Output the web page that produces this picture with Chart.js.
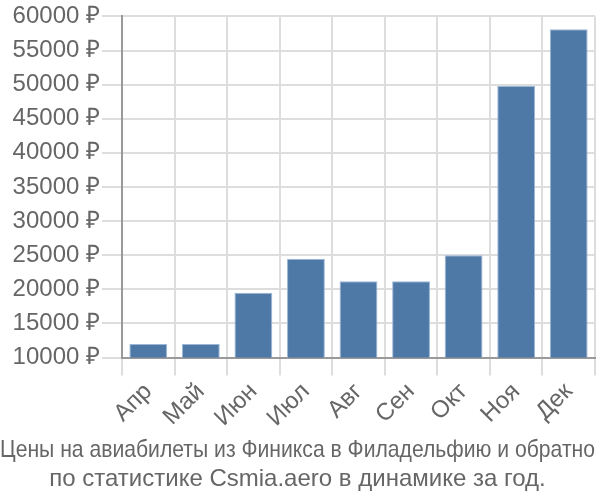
<!DOCTYPE html>
<html>
<head>
<meta charset="utf-8">
<script src="https://cdn.jsdelivr.net/npm/chart.js@4"></script>
<style>
  body { margin: 0; background: #fff; }
  #wrap { width: 600px; height: 500px; }
</style>
</head>
<body>
<div id="wrap"><canvas id="priceChart"></canvas></div>
<script>
// Months and average prices (rubles)
const months = ["Апр", "Май", "Июн", "Июл", "Авг", "Сен", "Окт", "Ноя", "Дек"];
const prices = [12000, 12000, 19500, 24500, 21200, 21200, 25000, 49800, 58100];
const titleLines = ["Цены на авиабилеты из Финикса в Филадельфию и обратно", "по статистике Csmia.aero в динамике за год."];

const ctx = document.getElementById('priceChart').getContext('2d');
new Chart(ctx, {
    type: 'bar',
    data: {
        labels: months,
        datasets: [{
            data: prices,
            backgroundColor: "#4e79a7",
            borderColor: "#9cb7d6",
            borderWidth: 1
        }]
    },
    options: {
        responsive: true,
        maintainAspectRatio: false,
        animation: false,
        layout: { padding: { left: 0, right: 5, top: 3 } },
        plugins: {
            legend: { display: false },
            tooltip: { enabled: false },
            title: {
                display: true,
                position: 'bottom',
                text: titleLines,
                color: "#666",
                font: { family: "Liberation Sans", size: 24, weight: 'normal', lineHeight: 1.2 },
                padding: { top: 2, bottom: 6 }
            }
        },
        scales: {
            x: {
                grid: { color: "#ddd", lineWidth: 2, tickLength: 18 },
                border: { color: "#999", width: 2 },
                ticks: {
                    color: "#666",
                    padding: 2,
                    font: { family: "Liberation Sans", size: 24 },
                    maxRotation: 45,
                    minRotation: 45
                }
            },
            y: {
                min: 10000,
                max: 60000,
                afterFit: function (scale) { scale.width = 122; },
                grid: { color: "#ddd", lineWidth: 2, tickLength: 20 },
                border: { color: "#999", width: 2 },
                ticks: {
                    stepSize: 5000,
                    padding: 2,
                    color: "#666",
                    font: { family: "Liberation Sans", size: 24 },
                    callback: function (value) { return value + " ₽"; }
                }
            }
        }
    }
});
</script>
</body>
</html>
